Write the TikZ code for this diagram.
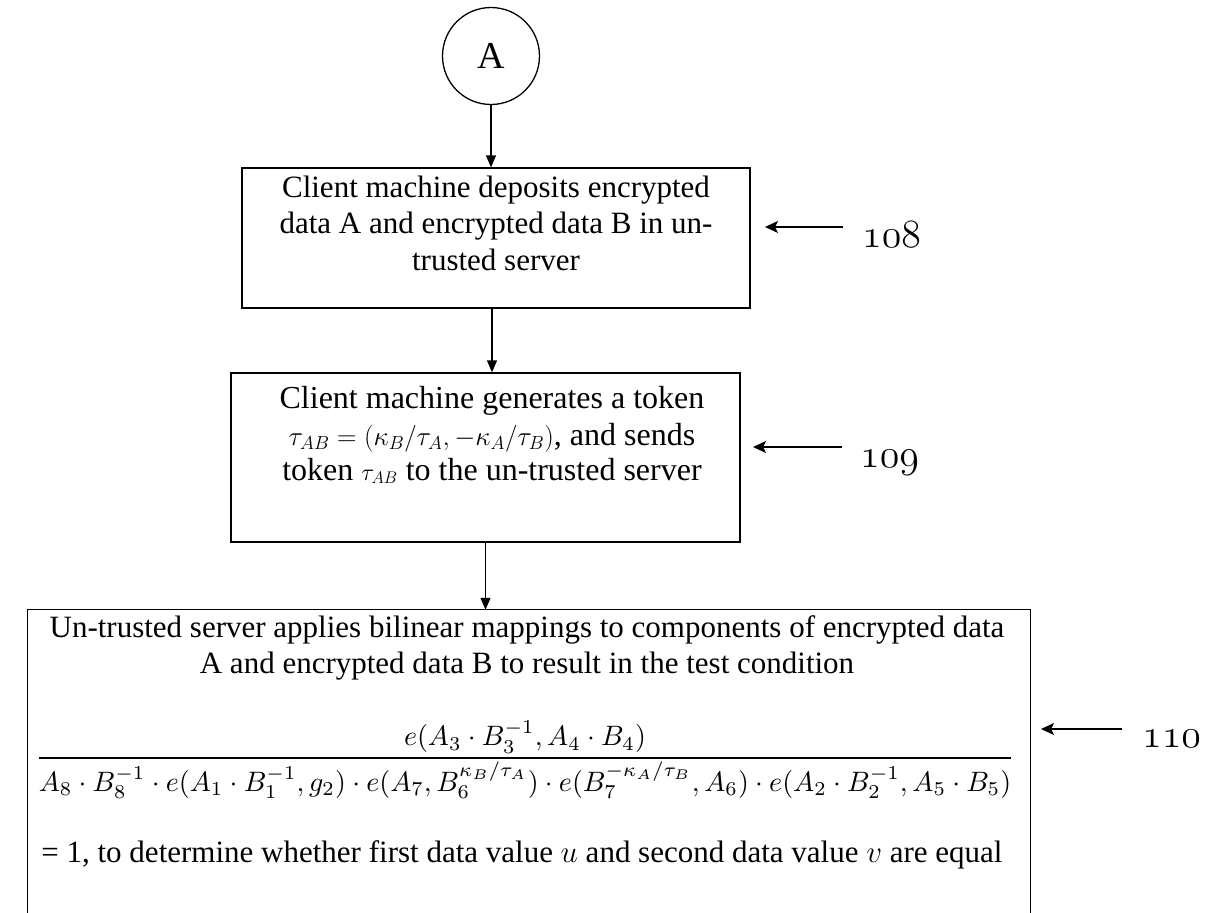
\RequirePackage{fix-cm}
\documentclass[tikz,border=0pt]{standalone}
\usepackage{fontspec}
\setmainfont{Liberation Serif}
\usepackage{amsmath}
\usepackage{graphicx}
\usetikzlibrary{arrows.meta}

\begin{document}
\begin{tikzpicture}[x=1pt,y=-1pt,
  stepbox/.style={draw, line width=1.3pt, inner sep=0pt},
  ln/.style={anchor=base, inner sep=0pt, font=\fontsize{31}{36}\selectfont},
  lnwide/.style={anchor=base, inner sep=0pt, font=\fontsize{31}{36}\selectfont},
  flow/.style={line width=1.3pt, -{Triangle[length=12pt,width=10pt]}},
  ptr/.style={line width=1.1pt, -{Stealth[length=13pt,width=12pt,inset=3pt]}},
  reflabel/.style={anchor=base west, inner sep=0pt, font=\fontsize{40}{44}\selectfont}]
\useasboundingbox (0,0) rectangle (1205,913);

% off-page connector
\node[circle, draw, line width=1.3pt, minimum size=97pt, inner sep=0pt,
      font=\fontsize{38}{40}\selectfont] (conn) at (491,56) {A};

% step 108
\node[stepbox, minimum width=508pt, minimum height=140pt] (box1) at (496,238) {};
\node[ln] (box1a) at (496,197) {Client machine deposits encrypted};
\node[ln] (box1b) at (496,233) {data A and encrypted data B in un-};
\node[ln] (box1c) at (496,270) {trusted server};

% step 109
\node[stepbox, minimum width=509pt, minimum height=169pt] (box2) at (485.5,457.5) {};
\node[ln, font=\fontsize{32}{36}\selectfont] (box2a) at (492,408) {Client machine generates a token};
\node[ln, font=\fontsize{32}{36}\selectfont] (box2b) at (492,445)
  {{\fontsize{27}{36}\selectfont$\tau_{AB}=(\kappa_B/\tau_A,-\kappa_A/\tau_B)$}, and sends};
\node[ln, font=\fontsize{32}{36}\selectfont] (box2c) at (492,480)
  {token {\fontsize{24}{36}\selectfont$\tau_{AB}$} to the un-trusted server};

% step 110 (open at the bottom)
\node[minimum width=1002pt, minimum height=304pt, inner sep=0pt] (box3) at (529,762) {};
\draw[line width=1.3pt] (box3.south west) -- (box3.north west)
  -- (box3.north east) -- (box3.south east);
\node[lnwide] (box3a) at (527,637) {Un-trusted server applies bilinear mappings to components of encrypted data};
\node[lnwide] (box3b) at (527,673) {A and encrypted data B to result in the test condition};
\node[inner sep=0pt] (cond) at (525,760) {\resizebox{979pt}{!}{$\displaystyle
  \frac{e(A_3\cdot B_3^{-1},A_4\cdot B_4)}
  {A_8\cdot B_8^{-1}\cdot e(A_1\cdot B_1^{-1},g_2)\cdot e(A_7,B_6^{\kappa_B/\tau_A})\cdot
   e(B_7^{-\kappa_A/\tau_B},A_6)\cdot e(A_2\cdot B_2^{-1},A_5\cdot B_5)}$}};
\node[lnwide] (box3c) at (522,862) {= 1, to determine whether first data value $u$ and second data value $v$ are equal};

% flow arrows
\draw[flow] (conn.south) -- (conn.south |- box1.north);
\draw[flow] ([xshift=-4pt]box1.south) -- ([xshift=-4pt]box1.south |- box2.north);
\draw[flow] (box2.south) -- (box2.south |- box3.north);

% reference numerals
\coordinate (s108) at (843,227); \coordinate (t108) at (765,227);
\coordinate (s109) at (842,447); \coordinate (t109) at (753,447);
\coordinate (s110) at (1122,729); \coordinate (t110) at (1041,729);
\draw[ptr] (s108) -- (t108);
\draw[ptr] (s109) -- (t109);
\draw[ptr] (s110) -- (t110);
\node[reflabel] (l108) at (862,247) {$\mathnormal{108}$};
\node[reflabel] (l109) at (860,467) {$\mathnormal{109}$};
\node[reflabel] (l110) at (1142,747) {$\mathnormal{110}$};
\end{tikzpicture}
\end{document}
